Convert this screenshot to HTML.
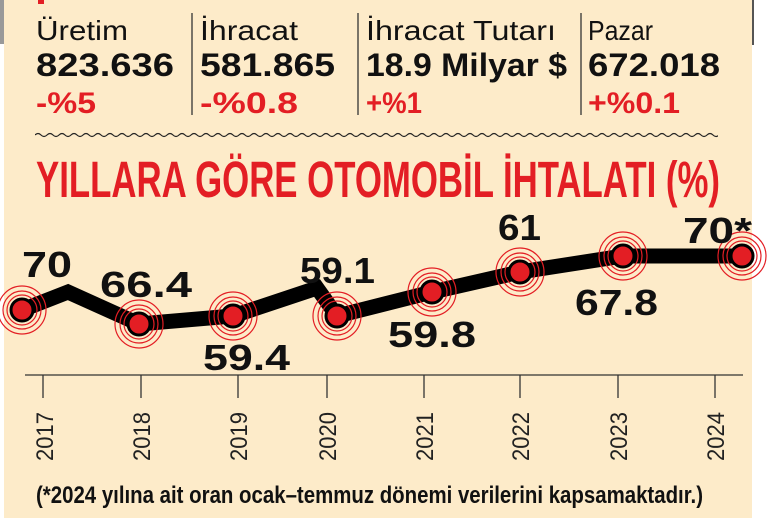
<!DOCTYPE html>
<html><head><meta charset="utf-8"><style>
html,body{margin:0;padding:0;background:#fff;}
svg{display:block;}
text{font-family:"Liberation Sans",sans-serif;}
</style></head><body>
<svg width="770" height="521" viewBox="0 0 770 521" xmlns="http://www.w3.org/2000/svg">
<defs><clipPath id="wc"><rect x="35" y="125" width="683" height="20"/></clipPath></defs>
<rect x="4" y="0" width="748" height="518" fill="#fdebc9"/>
<rect x="0" y="0" width="4" height="44" fill="#999"/>
<rect x="752" y="0" width="2" height="45" fill="#555"/>
<rect x="38" y="0" width="6" height="4" fill="#e31e24"/>
<!-- header -->
<g font-size="28" fill="#111">
<text x="36" y="40" textLength="92" lengthAdjust="spacingAndGlyphs">Üretim</text>
<text x="200" y="40" textLength="98" lengthAdjust="spacingAndGlyphs">İhracat</text>
<text x="366" y="40" textLength="190" lengthAdjust="spacingAndGlyphs">İhracat Tutarı</text>
<text x="588" y="40" textLength="65" lengthAdjust="spacingAndGlyphs">Pazar</text>
</g>
<g font-size="32" font-weight="bold" fill="#111">
<text x="36" y="76" textLength="138" lengthAdjust="spacingAndGlyphs">823.636</text>
<text x="200" y="76" textLength="135" lengthAdjust="spacingAndGlyphs">581.865</text>
<text x="366" y="76" textLength="201" lengthAdjust="spacingAndGlyphs">18.9 Milyar $</text>
<text x="588" y="76" textLength="132" lengthAdjust="spacingAndGlyphs">672.018</text>
</g>
<g font-size="30" font-weight="bold" fill="#e31e24">
<text x="36" y="113" textLength="60" lengthAdjust="spacingAndGlyphs">-%5</text>
<text x="200" y="113" textLength="98" lengthAdjust="spacingAndGlyphs">-%0.8</text>
<text x="366" y="113" textLength="56" lengthAdjust="spacingAndGlyphs">+%1</text>
<text x="588" y="113" textLength="92" lengthAdjust="spacingAndGlyphs">+%0.1</text>
</g>
<g stroke="#333" stroke-width="1.3">
<line x1="192" y1="13" x2="192" y2="115"/>
<line x1="358" y1="13" x2="358" y2="115"/>
<line x1="581" y1="13" x2="581" y2="115"/>
</g>
<path clip-path="url(#wc)" d="M35 135 q3 -3 6 0 t6 0 t6 0 t6 0 t6 0 t6 0 t6 0 t6 0 t6 0 t6 0 t6 0 t6 0 t6 0 t6 0 t6 0 t6 0 t6 0 t6 0 t6 0 t6 0 t6 0 t6 0 t6 0 t6 0 t6 0 t6 0 t6 0 t6 0 t6 0 t6 0 t6 0 t6 0 t6 0 t6 0 t6 0 t6 0 t6 0 t6 0 t6 0 t6 0 t6 0 t6 0 t6 0 t6 0 t6 0 t6 0 t6 0 t6 0 t6 0 t6 0 t6 0 t6 0 t6 0 t6 0 t6 0 t6 0 t6 0 t6 0 t6 0 t6 0 t6 0 t6 0 t6 0 t6 0 t6 0 t6 0 t6 0 t6 0 t6 0 t6 0 t6 0 t6 0 t6 0 t6 0 t6 0 t6 0 t6 0 t6 0 t6 0 t6 0 t6 0 t6 0 t6 0 t6 0 t6 0 t6 0 t6 0 t6 0 t6 0 t6 0 t6 0 t6 0 t6 0 t6 0 t6 0 t6 0 t6 0 t6 0 t6 0 t6 0 t6 0 t6 0 t6 0 t6 0 t6 0 t6 0 t6 0 t6 0 t6 0 t6 0 t6 0 t6 0 t6 0 t6 0 t6 0 t6 0 t6 0 t6 0 t6 0 t6 0 t6 0" fill="none" stroke="#222" stroke-width="1.2"/>
<text x="36" y="197" font-size="51" font-weight="bold" fill="#e31e24" textLength="684" lengthAdjust="spacingAndGlyphs">YILLARA GÖRE OTOMOBİL İHTALATI (%)</text>
<!-- axis -->
<g stroke="#333" stroke-width="1.3">
<line x1="25" y1="375" x2="743" y2="375"/>
<line x1="43" y1="375" x2="43" y2="398"/>
<line x1="141" y1="375" x2="141" y2="398"/>
<line x1="238" y1="375" x2="238" y2="398"/>
<line x1="327" y1="375" x2="327" y2="398"/>
<line x1="424" y1="375" x2="424" y2="398"/>
<line x1="520" y1="375" x2="520" y2="398"/>
<line x1="618" y1="375" x2="618" y2="398"/>
<line x1="715" y1="375" x2="715" y2="398"/>
</g>
<g font-size="24" fill="#222">
<text transform="translate(53,461) rotate(-90)" textLength="49" lengthAdjust="spacingAndGlyphs">2017</text>
<text transform="translate(150,461) rotate(-90)" textLength="49" lengthAdjust="spacingAndGlyphs">2018</text>
<text transform="translate(247,461) rotate(-90)" textLength="49" lengthAdjust="spacingAndGlyphs">2019</text>
<text transform="translate(336,461) rotate(-90)" textLength="49" lengthAdjust="spacingAndGlyphs">2020</text>
<text transform="translate(433,461) rotate(-90)" textLength="49" lengthAdjust="spacingAndGlyphs">2021</text>
<text transform="translate(529,461) rotate(-90)" textLength="49" lengthAdjust="spacingAndGlyphs">2022</text>
<text transform="translate(627,461) rotate(-90)" textLength="49" lengthAdjust="spacingAndGlyphs">2023</text>
<text transform="translate(724,461) rotate(-90)" textLength="49" lengthAdjust="spacingAndGlyphs">2024</text>
</g>
<text x="36" y="503" font-size="24" font-weight="bold" fill="#111" textLength="667" lengthAdjust="spacingAndGlyphs">(*2024 yılına ait oran ocak–temmuz dönemi verilerini kapsamaktadır.)</text>
<!-- line -->
<polyline points="22,310 68,292 139,324 233,316 317,288 337,316 432,292 520,272 623,256 742,256" fill="none" stroke="#000" stroke-width="15" stroke-linejoin="miter"/>
<g fill="none" stroke="#e31e24" stroke-width="1.2">
<circle cx="22" cy="310" r="15"/><circle cx="22" cy="310" r="19"/><circle cx="22" cy="310" r="24"/>
<circle cx="139" cy="324" r="15"/><circle cx="139" cy="324" r="19"/><circle cx="139" cy="324" r="24"/>
<circle cx="233" cy="316" r="15"/><circle cx="233" cy="316" r="19"/><circle cx="233" cy="316" r="24"/>
<circle cx="337" cy="316" r="15"/><circle cx="337" cy="316" r="19"/><circle cx="337" cy="316" r="24"/>
<circle cx="432" cy="292" r="15"/><circle cx="432" cy="292" r="19"/><circle cx="432" cy="292" r="24"/>
<circle cx="520" cy="272" r="15"/><circle cx="520" cy="272" r="19"/><circle cx="520" cy="272" r="24"/>
<circle cx="623" cy="256" r="15"/><circle cx="623" cy="256" r="19"/><circle cx="623" cy="256" r="24"/>
<circle cx="742" cy="256" r="15"/><circle cx="742" cy="256" r="19"/><circle cx="742" cy="256" r="24"/>
</g>
<g fill="#e31e24" stroke="#000" stroke-width="3">
<circle cx="22" cy="310" r="11"/><circle cx="139" cy="324" r="11"/><circle cx="233" cy="316" r="11"/>
<circle cx="337" cy="316" r="11"/><circle cx="432" cy="292" r="11"/><circle cx="520" cy="272" r="11"/>
<circle cx="623" cy="256" r="11"/><circle cx="742" cy="256" r="11"/>
</g>
<!-- data labels -->
<g font-size="36" font-weight="bold" fill="#111">
<text x="22" y="277" textLength="50" lengthAdjust="spacingAndGlyphs">70</text>
<text x="100" y="297" textLength="92" lengthAdjust="spacingAndGlyphs">66.4</text>
<text x="203" y="370" textLength="87" lengthAdjust="spacingAndGlyphs">59.4</text>
<text x="300" y="283" textLength="75" lengthAdjust="spacingAndGlyphs">59.1</text>
<text x="388" y="347" textLength="88" lengthAdjust="spacingAndGlyphs">59.8</text>
<text x="498" y="240" textLength="43" lengthAdjust="spacingAndGlyphs">61</text>
<text x="575" y="315" textLength="83" lengthAdjust="spacingAndGlyphs">67.8</text>
<text x="683" y="243" textLength="69" lengthAdjust="spacingAndGlyphs">70*</text>
</g>
</svg>
</body></html>
